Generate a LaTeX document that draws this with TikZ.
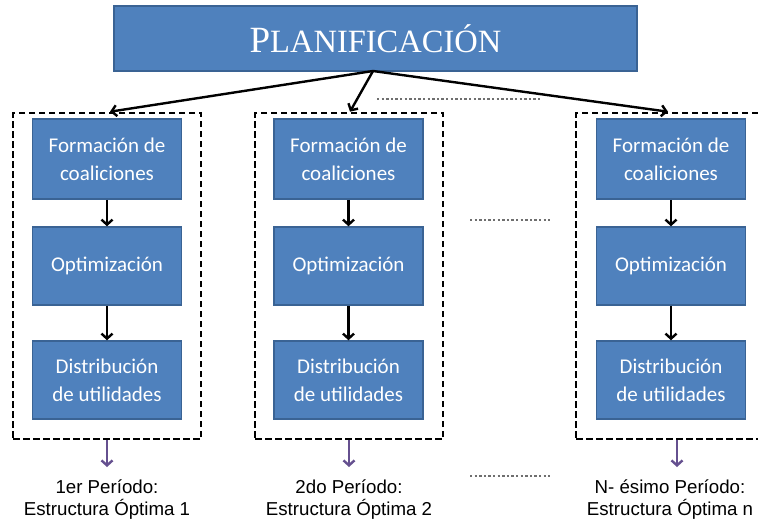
\documentclass[tikz,border=0pt]{standalone}
\usepackage{fontspec}
\setmainfont{Carlito}
\newfontfamily\labelfont{Liberation Sans}
\newfontfamily\titlefont{Liberation Serif}
\usetikzlibrary{arrows.meta}
\definecolor{boxblue}{HTML}{4F81BD}
\definecolor{boxedge}{HTML}{3A6394}
\definecolor{purplearrow}{HTML}{65508F}
\definecolor{dotgray}{HTML}{6F6F6F}
\tikzset{
  stagebox/.style={draw=boxedge, line width=1.5pt, fill=boxblue, text=white,
    minimum width=149pt, inner sep=0pt, align=center,
    font=\fontsize{21}{28}\selectfont},
  groupbox/.style={draw=black, line width=2.6pt, dash pattern=on 6.5pt off 3.5pt,
    minimum width=188pt, minimum height=326pt, inner sep=0pt},
  flowarrow/.style={draw=black, line width=2.4pt, -{Straight Barb[length=5pt,width=11pt]}},
  outarrow/.style={draw=purplearrow, line width=2.4pt, -{Straight Barb[length=5pt,width=11pt]}},
  dots/.style={draw=dotgray, line width=2.8pt, dash pattern=on 2.4pt off 2.2pt},
  perlabel/.style={align=center, inner sep=0pt, text=black,
    font=\labelfont\fontsize{18.7}{22}\selectfont},
}
\begin{document}
\begin{tikzpicture}[x=1pt,y=-1pt]
\useasboundingbox (0,0) rectangle (758,523);
\clip (0,0) rectangle (758,523);
% title
\node[draw=boxedge, line width=1.5pt, fill=boxblue, text=white,
      minimum width=523pt, minimum height=65pt, inner sep=0pt]
  (title) at (375.5,38.5)
  {\titlefont{\fontsize{37}{37}\selectfont P}{\fontsize{32.5}{32}\selectfont LANIFICACIÓN}};
% group boxes
\node[groupbox] (g1) at (107,276) {};
\node[groupbox] (g2) at (349,276) {};
\node[groupbox] (g3) at (670,276) {};
% stage boxes
\foreach \i/\x in {1/107,2/348.5,3/671}{
  \node[stagebox, minimum height=80pt] (f\i) at (\x,159) {Formación de\\coaliciones};
  \node[stagebox, minimum height=78pt] (o\i) at (\x,266) {Optimización};
  \node[stagebox, minimum height=78pt] (d\i) at (\x,380) {Distribución\\de utilidades};
  \draw[flowarrow] (f\i) -- (o\i);
  \draw[flowarrow] (o\i) -- (d\i);
}
% top arrows
\coordinate (src) at (373,71);
\draw[flowarrow] (src) -- ([xshift=3pt]g1.north);
\draw[flowarrow] (src) -- ([xshift=1pt]g2.north);
\draw[flowarrow] (src) -- ([xshift=-2pt]g3.north);
% period labels
\node[perlabel] (l1) at (107,500) {1er Período:\\Estructura Óptima 1};
\node[perlabel] (l2) at (349,500) {2do Período:\\Estructura Óptima 2};
\node[perlabel] (l3) at (670,500) {N- ésimo Período:\\Estructura Óptima n};
\coordinate (e1) at (107,467);
\coordinate (e2) at (349,467);
\coordinate (e3) at (677,467);
\draw[outarrow] (g1.south) -- (e1);
\draw[outarrow] (g2.south) -- (e2);
\draw[outarrow] ([xshift=7pt]g3.south) -- (e3);
% ellipsis dots
\coordinate (p1) at (377,99);  \coordinate (p2) at (542,99);
\coordinate (q1) at (470,220); \coordinate (q2) at (550,220);
\coordinate (r1) at (470,476); \coordinate (r2) at (550,476);
\draw[dots] (p1) -- (p2);
\draw[dots] (q1) -- (q2);
\draw[dots] (r1) -- (r2);
\end{tikzpicture}
\end{document}
